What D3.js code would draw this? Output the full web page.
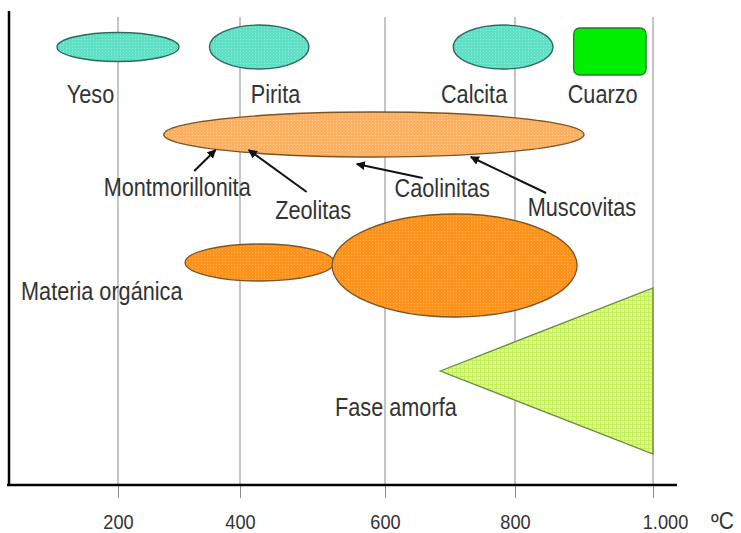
<!DOCTYPE html>
<html>
<head>
<meta charset="utf-8">
<script src="https://cdn.jsdelivr.net/npm/d3@7"></script>
<style>
  html, body { margin: 0; padding: 0; background: #fff; }
  svg { display: block; }
  text { font-family: "Liberation Sans", Arial, sans-serif; fill: #333; }
</style>
</head>
<body>
<svg id="chart" width="741" height="533"></svg>
<script>
// ---- data (temperatures in ºC) ----
const tickValues = [200, 400, 600, 800, 1000];
const tickLabels = ["200", "400", "600", "800", "1.000"];
const unitLabel = "ºC";

const minerals = ["Yeso", "Pirita", "Calcita", "Cuarzo"];
const mineralStart = [100, 350, 705, 885];
const mineralEnd = [300, 495, 855, 990];
const mineralLabelAt = [155, 449, 737, 927];

const clays = ["Montmorillonita", "Zeolitas", "Caolinitas", "Muscovitas"];
const clayRange = [275, 900];
const clayArrowTip = [360, 412, 561, 732];
const clayArrowTail = [325, 492, 658, 845];
const clayLabelAt = [297, 501, 688, 897];

const organicLabel = "Materia orgánica";
const organicStart = [310, 527];
const organicEnd = [530, 890];

const amorphLabel = "Fase amorfa";
const amorphStart = 685;
const amorphEnd = 1000;

// ---- layout ----
const svg = d3.select("#chart");
const x = d3.scaleLinear().domain([0, 200, 400, 600, 800, 1000])
  .range([-4, 118, 240, 385, 515, 653]);
const axisY = 485, gridTop = 17, leftX = 9;
const FS = 21.7, SY = 1.2;

function label(px, py, t, anchor, fs, sy) {
  return svg.append("text")
    .attr("transform", `translate(${px},${py}) scale(1,${sy || SY})`)
    .attr("text-anchor", anchor || "middle")
    .attr("font-size", fs || FS).text(t);
}

// gridlines
svg.append("g").selectAll("line").data(tickValues).join("line")
  .attr("x1", d => x(d)).attr("x2", d => x(d))
  .attr("y1", gridTop).attr("y2", axisY)
  .attr("stroke", "#8a8a8a").attr("stroke-width", 1);

// defs: textures + arrowhead
const defs = svg.append("defs");
function dots(id, bg, fg) {
  const p = defs.append("pattern").attr("id", id).attr("patternUnits", "userSpaceOnUse")
    .attr("width", 3).attr("height", 3);
  p.append("rect").attr("width", 3).attr("height", 3).attr("fill", bg);
  p.append("rect").attr("width", 1).attr("height", 1).attr("fill", fg);
}
dots("tq", "#5fe0c4", "#8aeed8");
dots("lo", "#fcb062", "#ffc88c");
dots("do", "#fb931c", "#ffab48");
const gp = defs.append("pattern").attr("id", "gr").attr("patternUnits", "userSpaceOnUse")
  .attr("width", 4).attr("height", 4);
gp.append("rect").attr("width", 4).attr("height", 4).attr("fill", "#dcf790");
gp.append("path").attr("d", "M0,0.5H4M0.5,0V4").attr("stroke", "#c4ee5a").attr("stroke-width", 1);

defs.append("marker").attr("id", "arr").attr("viewBox", "0 0 10 10")
  .attr("refX", 9).attr("refY", 5).attr("markerWidth", 4.5).attr("markerHeight", 4.5)
  .attr("orient", "auto")
  .append("path").attr("d", "M0,0L10,5L0,10z").attr("fill", "#111");

const shapes = svg.append("g");

// row 1: minerals
const row1 = { cy: 47, ry: [14.5, 22, 22] };
minerals.forEach((m, i) => {
  const x0 = x(mineralStart[i]), x1 = x(mineralEnd[i]);
  if (m === "Cuarzo") {
    shapes.append("rect").attr("x", x0).attr("y", 28).attr("width", x1 - x0).attr("height", 47)
      .attr("rx", 6).attr("fill", "#00ee00").attr("stroke", "#2a7a2a").attr("stroke-width", 1.3);
  } else {
    shapes.append("ellipse").attr("cx", (x0 + x1) / 2).attr("cy", row1.cy)
      .attr("rx", (x1 - x0) / 2).attr("ry", row1.ry[i])
      .attr("fill", "url(#tq)").attr("stroke", "#2c6a5e").attr("stroke-width", 1.3);
  }
  label(x(mineralLabelAt[i]), 103, m);
});

// row 2: clays
{
  const x0 = x(clayRange[0]), x1 = x(clayRange[1]);
  shapes.append("ellipse").attr("cx", (x0 + x1) / 2).attr("cy", 134.5)
    .attr("rx", (x1 - x0) / 2).attr("ry", 22.5)
    .attr("fill", "url(#lo)").attr("stroke", "#7a5426").attr("stroke-width", 1.3);
}
const tipY = [150, 150, 164, 157];
const tailY = [171, 192, 178, 193];
const labelY = [196, 219, 197, 216];
clays.forEach((c, i) => {
  svg.append("line").attr("x1", x(clayArrowTail[i])).attr("y1", tailY[i])
    .attr("x2", x(clayArrowTip[i])).attr("y2", tipY[i])
    .attr("stroke", "#111").attr("stroke-width", 2).attr("marker-end", "url(#arr)");
  label(x(clayLabelAt[i]), labelY[i], c);
});

// row 3: organic matter
const orgCy = [262.5, 265.5], orgRy = [18.5, 51.5];
organicStart.forEach((s, i) => {
  const x0 = x(s), x1 = x(organicEnd[i]);
  shapes.append("ellipse").attr("cx", (x0 + x1) / 2).attr("cy", orgCy[i])
    .attr("rx", (x1 - x0) / 2).attr("ry", orgRy[i])
    .attr("fill", "url(#do)").attr("stroke", "#7a5426").attr("stroke-width", 1.3);
});
label(21, 300, organicLabel, "start");

// row 4: amorphous phase
shapes.append("path")
  .attr("d", `M${x(amorphStart)},371L${x(amorphEnd)},288L${x(amorphEnd)},454Z`)
  .attr("fill", "url(#gr)").attr("stroke", "#6a8a40").attr("stroke-width", 1.3);
label(335, 416, amorphLabel, "start");

// axes
const xAxis = d3.axisBottom(x).tickValues(tickValues)
  .tickFormat((d, i) => tickLabels[i]).tickSize(13);
const ax = svg.append("g").attr("transform", `translate(0,${axisY})`).call(xAxis);
ax.select(".domain").remove();
ax.selectAll(".tick line").attr("stroke", "#8a8a8a");
ax.selectAll(".tick text").remove();
ax.selectAll(".tick").each(function (d, i) {
  d3.select(this).append("text")
    .attr("transform", `translate(${i === tickValues.length - 1 ? 12 : 0},43.5) scale(1,1.12)`)
    .attr("text-anchor", "middle").attr("font-size", 18.2)
    .attr("font-family", "Liberation Sans, Arial, sans-serif").attr("fill", "#333")
    .text(tickLabels[i]);
});

svg.append("line").attr("x1", 7).attr("x2", 677).attr("y1", axisY).attr("y2", axisY)
  .attr("stroke", "#000").attr("stroke-width", 2.5);
svg.append("line").attr("x1", leftX).attr("x2", leftX).attr("y1", 11).attr("y2", axisY)
  .attr("stroke", "#000").attr("stroke-width", 2.5);

label(711, 528.5, unitLabel, "start", 21, 1.1);
</script>
</body>
</html>
